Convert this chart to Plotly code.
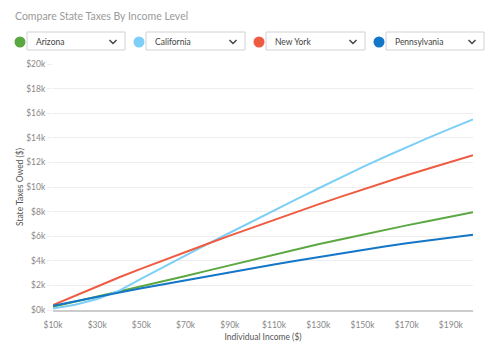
import plotly.graph_objects as go

income = [10, 20, 30, 40, 50, 60, 70, 80, 90, 100, 110, 120, 130, 140, 150, 160, 170, 180, 190, 200]  # $k
arizona = [0.26, 0.67, 1.08, 1.5, 1.9, 2.32, 2.76, 3.2, 3.64, 4.08, 4.5, 4.92, 5.34, 5.74, 6.14, 6.52, 6.88, 7.24, 7.6, 7.95]
california = [0.12, 0.42, 0.9, 1.58, 2.55, 3.5, 4.45, 5.37, 6.28, 7.2, 8.1, 9.0, 9.88, 10.77, 11.62, 12.44, 13.24, 14.01, 14.77, 15.5]
new_york = [0.39, 1.16, 1.92, 2.66, 3.36, 4.05, 4.72, 5.39, 6.05, 6.7, 7.34, 7.97, 8.59, 9.2, 9.8, 10.38, 10.95, 11.51, 12.06, 12.59]
pennsylvania = [0.34, 0.72, 1.08, 1.43, 1.77, 2.1, 2.43, 2.76, 3.08, 3.39, 3.7, 4.0, 4.3, 4.6, 4.9, 5.17, 5.42, 5.66, 5.89, 6.11]

states = ["Arizona", "California", "New York", "Pennsylvania"]
colors = ["#5BA843", "#7DCFF7", "#EE5B40", "#1476C6"]
series = [arizona, california, new_york, pennsylvania]

xticks = [10, 30, 50, 70, 90, 110, 130, 150, 170, 190]
yticks = [0, 2, 4, 6, 8, 10, 12, 14, 16, 18, 20]

W, H = 500, 358
L, R, T, B = 53, 27, 64, 48
PW, PH = W - L - R, H - T - B

def px(x):
    return (x - L) / PW

def py(y):
    return (H - B - y) / PH

FONT = "Lato"

fig = go.Figure()
for name, col, vals in zip(states, colors, series):
    fig.add_trace(go.Scatter(x=income, y=vals, mode="lines", name=name,
                             line=dict(color=col, width=2), showlegend=False))

shapes = []
annotations = []

annotations.append(dict(text="Compare State Taxes By Income Level", xref="paper", yref="paper",
                        x=px(13), y=py(16), xanchor="left", yanchor="middle", showarrow=False,
                        font=dict(family=FONT, size=10.5, color="#9a9a9a")))

box_x = [(27, 125), (146, 245), (266, 365), (386, 484)]
for (x0, x1), name, col in zip(box_x, states, colors):
    cx = x0 - 7
    shapes.append(dict(type="circle", xref="paper", yref="paper",
                       x0=px(cx - 5.5), x1=px(cx + 5.5), y0=py(42 + 5.5), y1=py(42 - 5.5),
                       fillcolor=col, line=dict(width=0)))
    shapes.append(dict(type="rect", xref="paper", yref="paper",
                       x0=px(x0), x1=px(x1), y0=py(50), y1=py(32),
                       fillcolor="white", line=dict(color="#d2d2d2", width=1)))
    chx = x1 - 12
    path = "M {} {} L {} {} L {} {}".format(px(chx - 3.5), py(40), px(chx), py(43.5), px(chx + 3.5), py(40))
    shapes.append(dict(type="path", xref="paper", yref="paper", path=path,
                       line=dict(color="#444444", width=1.5)))
    annotations.append(dict(text=name, xref="paper", yref="paper", x=px(x0 + 7), y=py(42),
                            xanchor="left", yanchor="middle", showarrow=False,
                            font=dict(family=FONT, size=8.5, color="#444444")))

fig.update_layout(
    width=W, height=H,
    margin=dict(l=L, r=R, t=T, b=B, pad=0),
    paper_bgcolor="white", plot_bgcolor="white",
    shapes=shapes, annotations=annotations,
    xaxis=dict(range=[10, 200], tickvals=xticks, ticktext=["$%dk" % v for v in xticks],
               showgrid=False, zeroline=False, showline=True, linecolor="#cccccc", linewidth=1.5,
               ticks="outside", ticklen=6, tickcolor="rgba(0,0,0,0)",
               tickfont=dict(family=FONT, size=8.5, color="#888888"),
               title=dict(text="Individual Income ($)", standoff=5,
                          font=dict(family=FONT, size=8.5, color="#555555"))),
    yaxis=dict(range=[0, 20], tickvals=yticks, ticktext=["$%dk" % v for v in yticks],
               showgrid=True, gridcolor="#eeeeee", gridwidth=1, zeroline=False,
               ticks="outside", ticklen=5, tickcolor="#eeeeee", tickwidth=1,
               tickfont=dict(family=FONT, size=8.5, color="#888888"),
               title=dict(text="State Taxes Owed ($)", standoff=1,
                          font=dict(family=FONT, size=8.5, color="#555555"))),
)

fig.write_html("out.html", config={"displayModeBar": False},
               post_script="document.body.style.margin='0px';")
